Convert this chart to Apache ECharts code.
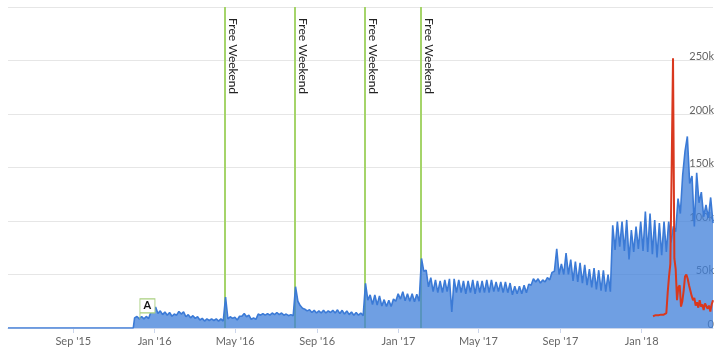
<!DOCTYPE html>
<html><head><meta charset="utf-8">
<script src="https://cdn.jsdelivr.net/npm/echarts@6/dist/echarts.min.js"></script>
<style>html,body{margin:0;padding:0;background:#fff}#c{width:720px;height:356px}</style>
</head><body><div id="c"></div>
<script>
// ---- axis range and ticks ----
const xStart = '2015-05-26';
const xEnd = '2018-04-18';
const tickDates = ['2015-09-01','2016-01-01','2016-05-01','2016-09-01','2017-01-01','2017-05-01','2017-09-01','2018-01-01'];
const tickLabels = ["Sep '15","Jan '16","May '16","Sep '16","Jan '17","May '17","Sep '17","Jan '18"];

// ---- blue series: zero until launch, then mid-week / weekend values (thousands) ----
const blueZeroStart = '2015-05-26';
const blueZeroEnd = '2015-11-30';
const blueStart = '2015-12-02';
const blueStepDays = 3.5;
const blueValuesK = [
  9.5,10.8, 8.5,10.8, 8.5,10.8, 8.8,15, 15,19.6, 13.5,16, 12.5,15, 12,14.5, 11,13, 12,15.5,
  13,15, 10.5,12.5, 9.5,11.5, 9,10.5, 7.5,9, 6.5,8.5, 7,8.5, 7,8.5, 6.5,8.5, 6.5,29,
  8.5,10.5, 9,10, 7.5,11, 11,13.5, 10.5,12, 8,9.5, 8,13, 12,13.5, 12,13.5, 12,14,
  12.5,14.5, 12.5,14, 12,13, 11.5,12.5, 11.5,38.6, 25,21, 18.5,17.5, 16,17, 14.5,16.5, 14,16,
  14,16.5, 14,16, 14.5,16.5, 14,17, 13.5,16.5, 13,16, 12.5,15, 12,14.5, 12,14, 11.5,41.8,
  26,31, 22,30.8, 21.5,30, 20.5,26.5, 20,26, 20,27, 25,32, 27,34, 25.5,32, 25,32,
  24.5,31.5, 25,65, 53,54, 38.5,47, 34,45, 33,44, 33,45, 34,46, 15,46, 33,45,
  33,44, 32,44, 33,45, 32,44, 33,44, 33,45, 33,45, 34,43, 34,43, 33,43,
  33,42, 31,39, 32,39, 32,40, 33,41, 40,46, 43,46, 42,45, 43,47, 45,52,
  53,74, 50,60, 50,70, 50,64, 44,62, 43,61, 42,59, 40,55, 38,56, 36,54,
  35,54, 34,50, 34,96, 73,99.5, 76,99.5, 72,101, 64,91.6, 71,94.7, 74,99.5, 72,108.8,
  71,107, 69,101, 66,98, 68,99.5, 71,99.5, 80,95, 90,121, 107,143, 165,179, 135,142,
  95,145, 117,127, 104,115, 103,122, 98
];

// ---- red series (thousands), every 2 days ----
const redStart = '2018-01-18';
const redStepDays = 2;
const redValuesK = [
  11,10.5,12,11,12,11.5,12.5,12,12.5,13,
  14,33,48,60,150,252,65,55,26,38,
  40,20,25,35,48,50,46,40,35,30,
  26,28,21,24,19,26,20,22,16.8,23,
  24.6,18,21,15.3,22,26
];

// ---- annotations ----
const freeWeekendDates = ['2016-04-15','2016-07-30','2016-11-12','2017-02-04'];
const freeWeekendLabel = 'Free Weekend';
const flagDates = ['2015-12-10'];
const flagTitles = ['A'];

// ---- build ----
const DAY = 86400000;
const ms = s => { const p = s.split('-').map(Number); return Date.UTC(p[0], p[1]-1, p[2]); };
const tickVals = tickDates.map(ms);

const blueData = [[ms(blueZeroStart),0],[ms(blueZeroEnd),0]].concat(
  blueValuesK.map((v,i) => [ms(blueStart) + i*blueStepDays*DAY, v*1000]));
const redData = redValuesK.map((v,i) => [ms(redStart) + i*redStepDays*DAY, v*1000]);

function valueAt(t){
  let best = blueData[0];
  for (const p of blueData) if (Math.abs(p[0]-t) < Math.abs(best[0]-t)) best = p;
  return best[1];
}
const flagData = flagDates.map((d,i) => [ms(d), valueAt(ms(d)), flagTitles[i]]);

const chart = echarts.init(document.getElementById('c'), null, {renderer:'canvas'});
chart.setOption({
  animation:false,
  backgroundColor:'#fff',
  textStyle:{fontFamily:'Lato, "DejaVu Sans", sans-serif'},
  grid:{left:8,right:7,top:7,bottom:28},
  xAxis:{
    type:'value', min:ms(xStart), max:ms(xEnd),
    axisLine:{show:true, lineStyle:{color:'#ccd6eb'}},
    axisTick:{show:true, customValues:tickVals, length:5, lineStyle:{color:'#ccd6eb'}},
    axisLabel:{customValues:tickVals, color:'#666', fontSize:11, margin:8, showMinLabel:true, showMaxLabel:true,
      formatter: v => { const i = tickVals.indexOf(+v); return i>=0 ? tickLabels[i] : ''; }},
    splitLine:{show:false}
  },
  yAxis:{
    type:'value', position:'right', min:0, max:300000, interval:50000,
    axisLine:{show:false}, axisTick:{show:false},
    axisLabel:{inside:true, margin:-1, verticalAlign:'bottom', lineHeight:8, color:'#666', fontSize:11,
      formatter: v => v===300000 ? '' : (v===0 ? '0' : (v/1000)+'k')},
    splitLine:{lineStyle:{color:'#e6e6e6'}}
  },
  series:[
    {
      type:'line', data:blueData, showSymbol:false, z:2,
      lineStyle:{color:'#3b7ad6', width:1.6},
      itemStyle:{color:'#3b7ad6'},
      areaStyle:{color:'rgba(63,127,217,0.75)', opacity:1},
      markLine:{
        silent:true, symbol:'none', z:1,
        lineStyle:{color:'#a5d46a', width:2, type:'solid', opacity:1},
        label:{show:true, formatter:freeWeekendLabel, position:'insideStartTop', distance:[11,2],
          color:'#222', fontSize:12, fontFamily:'Lato, sans-serif'},
        data: freeWeekendDates.map(d => [{coord:[ms(d),300000]},{coord:[ms(d),0]}])
      }
    },
    {
      type:'line', data:redData, showSymbol:false, z:3,
      lineStyle:{color:'#d9381e', width:2},
      itemStyle:{color:'#d9381e'}
    },
    {
      type:'scatter', data:flagData, z:4, silent:true,
      symbol:'path://M0,0L15,0L15,14L0,14ZM0,14L0,20',
      symbolSize:[15,20], symbolOffset:[7.5,-10],
      itemStyle:{color:'#fff', borderColor:'#a9cf7f', borderWidth:1, opacity:1},
      label:{show:true, position:'inside', formatter:p=>p.data[2], color:'#111', fontSize:11, fontWeight:'bold', offset:[0,-3]}
    }
  ]
});
</script>
</body></html>
